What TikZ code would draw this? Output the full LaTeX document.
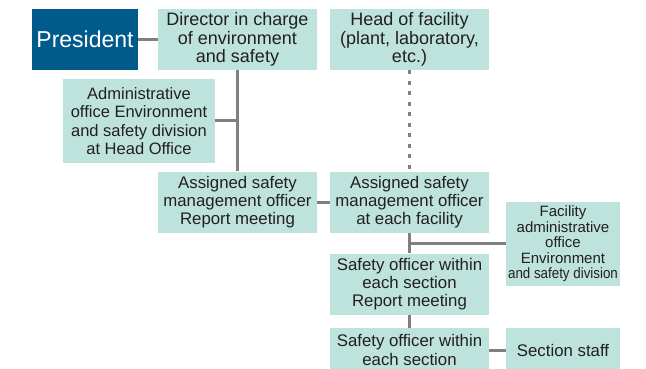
\documentclass[tikz,border=0pt]{standalone}
\usepackage{fontspec}
\setmainfont{Liberation Sans}
\usetikzlibrary{positioning}
\definecolor{orgblue}{HTML}{005A8C}
\definecolor{orgteal}{HTML}{BDE3DC}
\definecolor{orgline}{HTML}{808080}
\definecolor{orgtext}{HTML}{231F20}
\tikzset{top/.style={rectangle,fill=orgblue,text=white,minimum width=106pt,minimum height=61pt,inner sep=0pt,font=\fontsize{23}{26}\selectfont}}
\tikzset{unit/.style={rectangle,fill=orgteal,text=orgtext,align=center,minimum width=159pt,minimum height=61pt,inner sep=0pt,font=\fontsize{16.8}{18.3}\selectfont}}
\tikzset{head/.style={unit,font=\fontsize{18}{18.3}\selectfont}}
\tikzset{side/.style={unit,minimum width=114pt}}
\tikzset{link/.style={draw=orgline,line width=3pt}}
\tikzset{dotlink/.style={draw=orgline,line width=2.5pt,dash pattern=on 4pt off 6.5pt}}

\begin{document}
\begin{tikzpicture}[x=1pt,y=-1pt]
    \useasboundingbox (0,0) rectangle (646,369);

    \node[top]  (pres) at (85, 39.5)    {President};
    \node[head] (dir)  at (237.5, 39.5) {Director in charge\\of environment\\and safety};
    \node[head] (head) at (409.5, 39.5) {Head of facility\\(plant, laboratory,\\etc.)};
    \node[unit,minimum width=152pt,minimum height=84pt,font=\fontsize{16.5}{18.3}\selectfont] (adm) at (139, 121)
        {Administrative\\office Environment\\and safety division\\at Head Office};
    \node[unit] (rep)  at (237.5, 202)  {Assigned safety\\management officer\\Report meeting};
    \node[unit] (fac)  at (409.5, 202)  {Assigned safety\\management officer\\at each facility};
    \node[side,minimum height=84pt,font=\fontsize{15}{15.5}\selectfont] (facadm) at (563, 244)
        {Facility\\administrative\\office\\Environment\\\scalebox{0.89}[1]{and safety division}};
    \node[unit] (secrep) at (409.5, 284) {Safety officer within\\each section\\Report meeting};
    \node[unit,minimum height=44pt] (sec) at (409.5, 350) {Safety officer within\\each section};
    \node[side,minimum height=44pt] (staff) at (563, 350) {Section staff};

    \draw[link] (pres) -- (dir);
    \draw[link] (dir) -- (rep);
    \draw[link] (adm.east) -- (adm.east -| dir.south);
    \draw[link] (rep) -- (fac);
    \draw[dotlink] (head) -- (fac);
    \draw[link] (fac) -- (secrep);
    \draw[link] (facadm.west |- 0,243) -- (fac.south |- 0,243);
    \draw[link] (secrep) -- (sec);
    \draw[link] (sec.east |- staff) -- (staff);
\end{tikzpicture}
\end{document}
